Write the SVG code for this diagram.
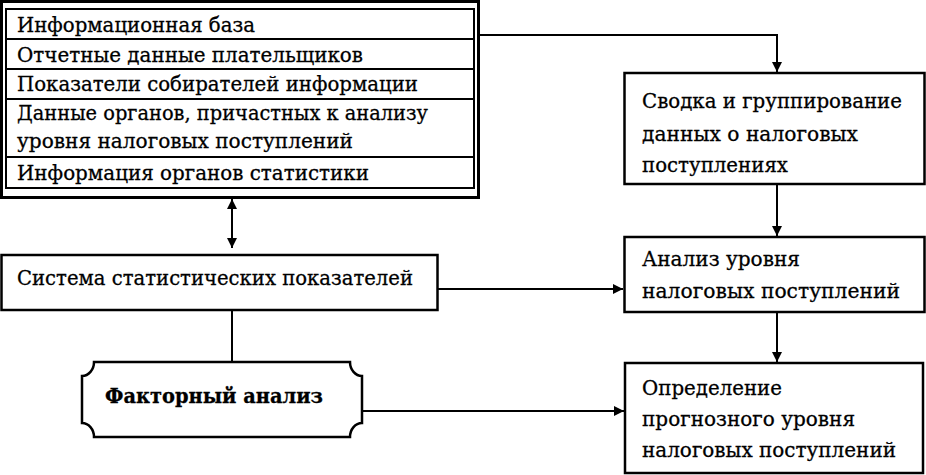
<svg xmlns="http://www.w3.org/2000/svg" width="926" height="475" viewBox="0 0 926 475" font-family="DejaVu Serif, serif" font-size="21">
<style>
.b{fill:#fff;stroke:#000;stroke-width:2.5}
.t{fill:none;stroke:#000;stroke-width:2}
.c{fill:none;stroke:#000;stroke-width:2}
.bold{font-weight:bold}
text{fill:#000;stroke:#000;stroke-width:0.3}
</style>
<defs>
<marker id="a" viewBox="0 0 10 10" refX="10" refY="5" markerWidth="10" markerHeight="10" markerUnits="userSpaceOnUse" orient="auto-start-reverse">
<path d="M0,0 L10,5 L0,10 Z" fill="#000"/>
</marker>
</defs>
<rect width="926" height="475" fill="#fff"/>
<g id="info-base">
<rect x="1.5" y="1.5" width="477" height="196" fill="#fff" stroke="#000" stroke-width="3"/>
<rect x="6" y="9" width="468" height="179" class="t"/>
<line x1="6" y1="39" x2="474" y2="39" class="t"/>
<line x1="6" y1="69" x2="474" y2="69" class="t"/>
<line x1="6" y1="99" x2="474" y2="99" class="t"/>
<line x1="6" y1="157" x2="474" y2="157" class="t"/>
<text x="17" y="32" textLength="238" lengthAdjust="spacingAndGlyphs">Информационная база</text>
<text x="17" y="62" textLength="346" lengthAdjust="spacingAndGlyphs">Отчетные данные плательщиков</text>
<text x="17" y="91" textLength="401" lengthAdjust="spacingAndGlyphs">Показатели собирателей информации</text>
<text x="17" y="120" textLength="411" lengthAdjust="spacingAndGlyphs">Данные органов, причастных к анализу</text>
<text x="17" y="148" textLength="336" lengthAdjust="spacingAndGlyphs">уровня налоговых поступлений</text>
<text x="17" y="180" textLength="352" lengthAdjust="spacingAndGlyphs">Информация органов статистики</text>
</g>
<g id="stat-system">
<rect x="1.5" y="255" width="436" height="55" class="b"/>
<text x="17" y="285" textLength="396" lengthAdjust="spacingAndGlyphs">Система статистических показателей</text>
</g>
<g id="factor">
<path class="b" d="M94,362 L350,362 A12,14 0 0 0 362,376 L362,423 A12,14 0 0 0 350,437 L94,437 A12,14 0 0 0 82,423 L82,376 A12,14 0 0 0 94,362 Z"/>
<text x="105" y="403" class="bold" textLength="218" lengthAdjust="spacingAndGlyphs">Факторный анализ</text>
</g>
<g id="summary">
<rect x="624.5" y="73" width="300" height="111" class="b"/>
<text x="642" y="108" textLength="260" lengthAdjust="spacingAndGlyphs">Сводка и группирование</text>
<text x="642" y="141" textLength="216" lengthAdjust="spacingAndGlyphs">данных о налоговых</text>
<text x="642" y="172" textLength="146" lengthAdjust="spacingAndGlyphs">поступлениях</text>
</g>
<g id="analysis">
<rect x="624.5" y="237" width="300" height="75" class="b"/>
<text x="642" y="266" textLength="158" lengthAdjust="spacingAndGlyphs">Анализ уровня</text>
<text x="642" y="298" textLength="258" lengthAdjust="spacingAndGlyphs">налоговых поступлений</text>
</g>
<g id="forecast">
<rect x="625" y="363" width="298" height="110" class="b"/>
<text x="642" y="395" textLength="140" lengthAdjust="spacingAndGlyphs">Определение</text>
<text x="642" y="426" textLength="213" lengthAdjust="spacingAndGlyphs">прогнозного уровня</text>
<text x="642" y="457" textLength="254" lengthAdjust="spacingAndGlyphs">налоговых поступлений</text>
</g>
<g id="connectors">
<polyline class="c" points="480,35 777,35 777,72" marker-end="url(#a)"/>
<line class="c" x1="777" y1="184" x2="777" y2="236" marker-end="url(#a)"/>
<line class="c" x1="777" y1="312" x2="777" y2="362" marker-end="url(#a)"/>
<line class="c" x1="232" y1="199" x2="232" y2="248" marker-start="url(#a)" marker-end="url(#a)"/>
<line class="c" x1="438" y1="289" x2="623" y2="289" marker-end="url(#a)"/>
<line class="c" x1="232" y1="310" x2="232" y2="362"/>
<line class="c" x1="362" y1="411" x2="624" y2="411" marker-end="url(#a)"/>
</g>
</svg>
